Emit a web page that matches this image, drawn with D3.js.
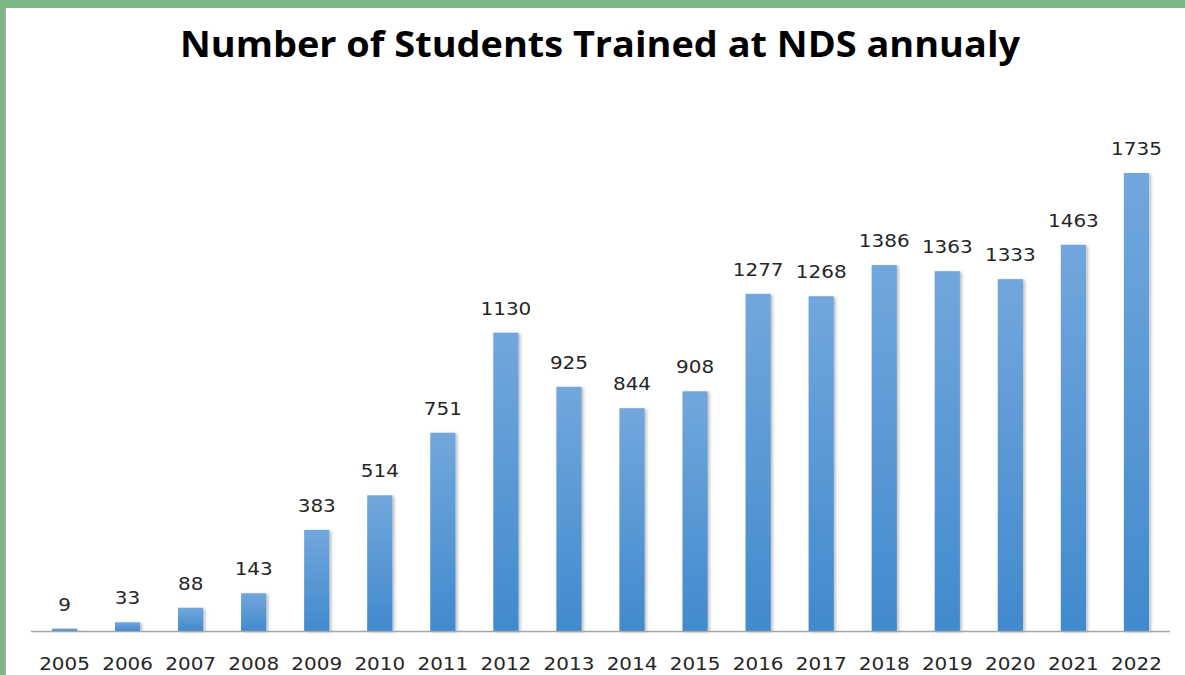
<!DOCTYPE html>
<html>
<head>
<meta charset="utf-8">
<script src="https://cdn.jsdelivr.net/npm/d3@7"></script>
<style>
  body { margin: 0; background: #fff; overflow: hidden; }
  svg { display: block; }
</style>
</head>
<body>
<div id="chart"></div>
<script>
// data
const years = ["2005","2006","2007","2008","2009","2010","2011","2012","2013",
               "2014","2015","2016","2017","2018","2019","2020","2021","2022"];
const students = [9, 33, 88, 143, 383, 514, 751, 1130, 925,
                  844, 908, 1277, 1268, 1386, 1363, 1333, 1463, 1735];
const yDomain = [0, 2000];

const W = 1185, H = 675;
const baseY = 631;
const charW = 12.7; // the source text looks stretched sideways

const svg = d3.select("#chart").append("svg")
    .attr("width", W)
    .attr("height", H);

// frame: green strip on top and left, gray inner line
svg.append("rect").attr("x", 0).attr("y", 0).attr("width", W).attr("height", 8).attr("fill", "#7db686");
svg.append("rect").attr("x", 0).attr("y", 0).attr("width", 4).attr("height", H).attr("fill", "#7db686");
svg.append("rect").attr("x", 4).attr("y", 8).attr("width", 2).attr("height", H).attr("fill", "#a6a6a6");

// gradient for the bars, lighter at top
const defs = svg.append("defs");
const grad = defs.append("linearGradient")
    .attr("id", "barGrad")
    .attr("x1", 0).attr("y1", 0).attr("x2", 0).attr("y2", 1);
grad.append("stop").attr("offset", "0%").attr("stop-color", "#72a7dd");
grad.append("stop").attr("offset", "100%").attr("stop-color", "#418acd");

const shadow = defs.append("filter").attr("id", "shadow")
    .attr("x", "-30%").attr("y", "-10%").attr("width", "170%").attr("height", "120%");
shadow.append("feDropShadow")
    .attr("dx", 2).attr("dy", 1).attr("stdDeviation", 1.5)
    .attr("flood-color", "#000").attr("flood-opacity", 0.25);

// scales
const x = d3.scaleBand()
    .domain(years)
    .range([33, 1168])
    .paddingInner(0.6)
    .paddingOuter(0.3);

const y = d3.scaleLinear()
    .domain(yDomain)
    .range([baseY, 103]);

// title
svg.append("text")
    .attr("x", 600)
    .attr("y", 57)
    .attr("text-anchor", "middle")
    .attr("textLength", 840)
    .attr("lengthAdjust", "spacingAndGlyphs")
    .style("font-family", "'Open Sans', sans-serif")
    .style("font-weight", "bold")
    .style("font-size", "36px")
    .attr("fill", "#000")
    .text("Number of Students Trained at NDS annualy");

// bars
svg.selectAll(".bar")
    .data(students)
    .enter()
    .append("rect")
    .attr("class", "bar")
    .attr("x", (d, i) => x(years[i]))
    .attr("y", d => y(d))
    .attr("width", x.bandwidth())
    .attr("height", d => baseY - y(d))
    .attr("fill", "url(#barGrad)")
    .attr("filter", "url(#shadow)");

// value labels
svg.selectAll(".val")
    .data(students)
    .enter()
    .append("text")
    .attr("class", "val")
    .attr("x", (d, i) => x(years[i]) + x.bandwidth() / 2)
    .attr("y", d => y(d) - 18)
    .attr("text-anchor", "middle")
    .attr("textLength", d => String(d).length * charW)
    .attr("lengthAdjust", "spacingAndGlyphs")
    .style("font-family", "'DejaVu Sans', sans-serif")
    .style("font-size", "18px")
    .attr("fill", "#262626")
    .text(d => d);

// x axis
const xAxis = d3.axisBottom(x).tickSize(0).tickPadding(0);
const gx = svg.append("g")
    .attr("transform", `translate(0,${baseY})`)
    .call(xAxis);
gx.select(".domain").remove();
gx.selectAll("text")
    .attr("y", 39)
    .attr("dy", 0)
    .attr("textLength", 4 * charW)
    .attr("lengthAdjust", "spacingAndGlyphs")
    .style("font-family", "'DejaVu Sans', sans-serif")
    .style("font-size", "18px")
    .attr("fill", "#262626");

svg.append("line")
    .attr("x1", 31).attr("x2", 1170)
    .attr("y1", baseY + 0.5).attr("y2", baseY + 0.5)
    .attr("stroke", "#a6a6a6")
    .attr("stroke-width", 1.5);
</script>
</body>
</html>
